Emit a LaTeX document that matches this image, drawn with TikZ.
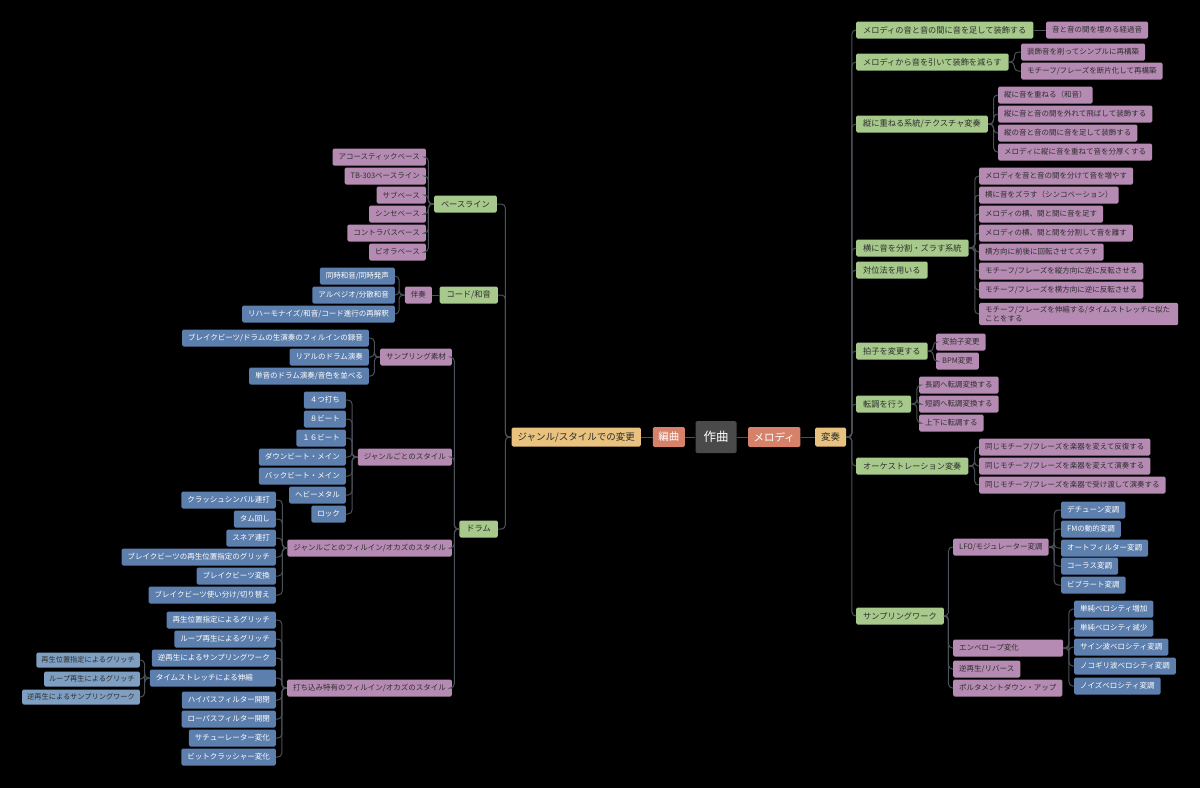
\documentclass[tikz,border=0pt]{standalone}
\usepackage{fontspec}
\setmainfont{Noto Sans CJK JP}
\definecolor{rootgray}{HTML}{4A4A4A}
\definecolor{salmon}{HTML}{D6826B}
\definecolor{mustard}{HTML}{E8C27E}
\definecolor{sage}{HTML}{A7C98B}
\definecolor{mauve}{HTML}{B68BB3}
\definecolor{steel}{HTML}{5D7FAD}
\definecolor{pale}{HTML}{7E9FC2}
\definecolor{ink}{HTML}{2E2E2E}
\definecolor{wire}{HTML}{4B5158}
\tikzset{
	box/.style={rounded corners=1.5pt, inner ysep=0pt, inner xsep=6pt, minimum height=17},
	root/.style={box, fill=rootgray, text=white, minimum height=32, inner xsep=8pt, font=\fontsize{12.5}{14}\selectfont},
	main/.style={box, fill=salmon, text=white, minimum height=20, inner xsep=5.5pt, font=\fontsize{10.5}{12}\selectfont},
	sub/.style={box, fill=mustard, text=ink, minimum height=19, font=\fontsize{9.5}{11}\selectfont},
	topic/.style={box, fill=sage, text=ink, inner xsep=7pt, font=\fontsize{8.2}{9.5}\selectfont},
	item/.style={box, fill=mauve, text=ink, font=\fontsize{7.5}{9.5}\selectfont},
	detail/.style={box, fill=steel, text=white, font=\fontsize{7.5}{9}\selectfont},
	fine/.style={box, fill=pale, text=ink, minimum height=15, inner xsep=5pt, font=\fontsize{7.2}{8.5}\selectfont},
	branch/.style={draw=wire, line width=1pt, rounded corners=4pt},
}
\begin{document}
\begin{tikzpicture}[x=1pt, y=-1pt]
	\fill[black] (0,0) rectangle (1200,788);
	\useasboundingbox (0,0) rectangle (1200,788);
	% centre
	\node[root] at (716,437) (saku) {作曲};
	\node[main, anchor=east] at (685,437) (henkyoku) {編曲};
	\node[main, anchor=west] at (748,437) (melody) {メロディ};
	\node[sub, anchor=east] at (641,437) (genre) {ジャンル/スタイルでの変更};
	\node[sub, anchor=west] at (815,437) (hensou) {変奏};
	\draw[branch] (saku.west) -- (henkyoku.east);
	\draw[branch] (henkyoku.west) -- (genre.east);
	\draw[branch] (saku.east) -- (melody.west);
	\draw[branch] (melody.east) -- (hensou.west);
	% right: variation
	\node[topic, anchor=west] at (856,30) (orn) {メロディの音と音の間に音を足して装飾する};
	\node[item, anchor=west] at (1046,30) (orna) {音と音の間を埋める経過音};
	\node[topic, anchor=west] at (856,62) (red) {メロディから音を引いて装飾を減らす};
	\node[item, anchor=west] at (1021,52) (reda) {装飾音を削ってシンプルに再構築};
	\node[item, anchor=west] at (1021,71) (redb) {モチーフ/フレーズを断片化して再構築};
	\node[topic, anchor=west] at (856,124) (vert) {縦に重ねる系統/テクスチャ変奏};
	\node[item, anchor=west] at (998,95) (verta) {縦に音を重ねる（和音）};
	\node[item, anchor=west] at (998,114) (vertb) {縦に音と音の間を外れて飛ばして装飾する};
	\node[item, anchor=west] at (998,133) (vertc) {縦の音と音の間に音を足して装飾する};
	\node[item, anchor=west] at (998,152) (vertd) {メロディに縦に音を重ねて音を分厚くする};
	\node[topic, anchor=west] at (856,248) (hor) {横に音を分割・ズラす系統};
	\node[topic, anchor=west] at (856,270) (cpt) {対位法を用いる};
	\node[item, anchor=west] at (979,176) (hora) {メロディを音と音の間を分けて音を増やす};
	\node[item, anchor=west] at (979,195) (horb) {横に音をズラす（シンコペーション）};
	\node[item, anchor=west] at (979,214) (horc) {メロディの横、間と間に音を足す};
	\node[item, anchor=west] at (979,233) (hord) {メロディの横、間と間を分割して音を離す};
	\node[item, anchor=west] at (979,252) (hore) {横方向に前後に回転させてズラす};
	\node[item, anchor=west] at (979,271) (horf) {モチーフ/フレーズを縦方向に逆に反転させる};
	\node[item, anchor=west] at (979,290) (horg) {モチーフ/フレーズを横方向に逆に反転させる};
	\node[item, anchor=west, inner ysep=3pt, text width=187, align=left] at (979,314) (horh) {モチーフ/フレーズを伸縮する/タイムストレッチに似た\\ことをする};
	\node[topic, anchor=west] at (856,351) (met) {拍子を変更する};
	\node[item, anchor=west] at (936,342) (meta) {変拍子変更};
	\node[item, anchor=west] at (936,361) (metb) {BPM変更};
	\node[topic, anchor=west] at (856,404) (mod) {転調を行う};
	\node[item, anchor=west] at (919,385) (moda) {長調へ転調変換する};
	\node[item, anchor=west] at (919,404) (modb) {短調へ転調変換する};
	\node[item, anchor=west] at (919,423) (modc) {上下に転調する};
	\node[topic, anchor=west] at (856,466) (orch) {オーケストレーション変奏};
	\node[item, anchor=west] at (979,447) (orcha) {同じモチーフ/フレーズを楽器を変えて反復する};
	\node[item, anchor=west] at (979,466) (orchb) {同じモチーフ/フレーズを楽器を変えて演奏する};
	\node[item, anchor=west] at (979,485) (orchc) {同じモチーフ/フレーズを楽器で受け渡して演奏する};
	\node[topic, anchor=west] at (856,616) (samp) {サンプリングワーク};
	\node[item, anchor=west] at (953,547) (lfo) {LFO/モジュレーター変調};
	\node[detail, anchor=west] at (1061,510) (lfoa) {デチューン変調};
	\node[detail, anchor=west] at (1061,529) (lfob) {FMの動的変調};
	\node[detail, anchor=west] at (1061,548) (lfoc) {オートフィルター変調};
	\node[detail, anchor=west] at (1061,566) (lfod) {コーラス変調};
	\node[detail, anchor=west] at (1061,585) (lfoe) {ビブラート変調};
	\node[item, anchor=west, text width=98, align=left] at (953,648) (env) {エンベロープ変化};
	\node[detail, anchor=west] at (1074,609) (enva) {単純ベロシティ増加};
	\node[detail, anchor=west] at (1074,628) (envb) {単純ベロシティ減少};
	\node[detail, anchor=west] at (1074,647) (envc) {サイン波ベロシティ変調};
	\node[detail, anchor=west] at (1074,666) (envd) {ノコギリ波ベロシティ変調};
	\node[detail, anchor=west] at (1074,686) (enve) {ノイズベロシティ変調};
	\node[item, anchor=west] at (953,669) (rev) {逆再生/リバース};
	\node[item, anchor=west] at (953,688) (port) {ポルタメントダウン・アップ};
	\foreach \c in {orn,red,vert,hor,cpt,met,mod,orch,samp}
		\draw[branch] (hensou.east) -- ++(5.5,0) |- (\c.west);
	\draw[branch] (orn.east) -- (orna.west);
	\foreach \c in {reda,redb}
		\draw[branch] (red.east) -- ++(5.5,0) |- (\c.west);
	\foreach \c in {verta,vertb,vertc,vertd}
		\draw[branch] (vert.east) -- ++(5.5,0) |- (\c.west);
	\foreach \c in {hora,horb,horc,hord,hore,horf,horg,horh}
		\draw[branch] (hor.east) -- ++(6,0) |- (\c.west);
	\foreach \c in {meta,metb}
		\draw[branch] (met.east) -- ++(5.5,0) |- (\c.west);
	\foreach \c in {moda,modb,modc}
		\draw[branch] (mod.east) -- ++(5.5,0) |- (\c.west);
	\foreach \c in {orcha,orchb,orchc}
		\draw[branch] (orch.east) -- ++(6,0) |- (\c.west);
	\foreach \c in {lfo,env,rev,port}
		\draw[branch] (samp.east) -- ++(4.5,0) |- (\c.west);
	\foreach \c in {lfoa,lfob,lfoc,lfod,lfoe}
		\draw[branch] (lfo.east) -- ++(5.5,0) |- (\c.west);
	\foreach \c in {enva,envb,envc,envd,enve}
		\draw[branch] (env.east) -- ++(5.5,0) |- (\c.west);
	% left: arrangement
	\node[topic, anchor=east] at (497,204) (bass) {ベースライン};
	\node[item, anchor=east] at (426,157) (bassa) {アコースティックベース};
	\node[item, anchor=east] at (426,176) (bassb) {TB-303ベースライン};
	\node[item, anchor=east] at (426,195) (bassc) {サブベース};
	\node[item, anchor=east] at (426,214) (bassd) {シンセベース};
	\node[item, anchor=east] at (426,233) (basse) {コントラバスベース};
	\node[item, anchor=east] at (426,252) (bassf) {ビオラベース};
	\node[topic, anchor=east] at (498,295) (chord) {コード/和音};
	\node[item, anchor=east] at (432,295) (acc) {伴奏};
	\node[detail, anchor=east] at (395,276) (acca) {同時和音/同時発声};
	\node[detail, anchor=east] at (395,295) (accb) {アルペジオ/分散和音};
	\node[detail, anchor=east] at (395,314) (accc) {リハーモナイズ/和音/コード進行の再解釈};
	\node[topic, anchor=east] at (498,529) (drum) {ドラム};
	\node[item, anchor=east] at (452,357) (smat) {サンプリング素材};
	\node[detail, anchor=east] at (369,338) (smata) {ブレイクビーツ/ドラムの生演奏のフィルインの録音};
	\node[detail, anchor=east] at (369,357) (smatb) {リアルのドラム演奏};
	\node[detail, anchor=east] at (369,376) (smatc) {単音のドラム演奏/音色を並べる};
	\node[item, anchor=east] at (452,457) (gsty) {ジャンルごとのスタイル};
	\node[detail, anchor=east] at (346,400) (gstya) {４つ打ち};
	\node[detail, anchor=east] at (346,419) (gstyb) {８ビート};
	\node[detail, anchor=east] at (346,438) (gstyc) {１６ビート};
	\node[detail, anchor=east] at (346,457) (gstyd) {ダウンビート・メイン};
	\node[detail, anchor=east] at (346,476) (gstye) {バックビート・メイン};
	\node[detail, anchor=east] at (346,495) (gstyf) {ヘビーメタル};
	\node[detail, anchor=east] at (346,514) (gstyg) {ロック};
	\node[item, anchor=east] at (452,548) (gfill) {ジャンルごとのフィルイン/オカズのスタイル};
	\node[detail, anchor=east] at (276,500) (gfilla) {クラッシュシンバル連打};
	\node[detail, anchor=east] at (276,519) (gfillb) {タム回し};
	\node[detail, anchor=east] at (276,538) (gfillc) {スネア連打};
	\node[detail, anchor=east] at (276,557) (gfilld) {ブレイクビーツの再生位置指定のグリッチ};
	\node[detail, anchor=east] at (276,576) (gfille) {ブレイクビーツ変換};
	\node[detail, anchor=east] at (276,595) (gfillf) {ブレイクビーツ使い分け/切り替え};
	\node[item, anchor=east] at (452,688) (dfill) {打ち込み特有のフィルイン/オカズのスタイル};
	\node[detail, anchor=east] at (276,620) (dfilla) {再生位置指定によるグリッチ};
	\node[detail, anchor=east] at (276,639) (dfillb) {ループ再生によるグリッチ};
	\node[detail, anchor=east] at (276,658) (dfillc) {逆再生によるサンプリングワーク};
	\node[detail, anchor=east, text width=114, align=left] at (276,678) (tstr) {タイムストレッチによる伸縮};
	\node[fine, anchor=east] at (140,660) (tstra) {再生位置指定によるグリッチ};
	\node[fine, anchor=east] at (140,679) (tstrb) {ループ再生によるグリッチ};
	\node[fine, anchor=east] at (140,697) (tstrc) {逆再生によるサンプリングワーク};
	\node[detail, anchor=east] at (276,700) (dfille) {ハイパスフィルター開閉};
	\node[detail, anchor=east] at (276,719) (dfillf) {ローパスフィルター開閉};
	\node[detail, anchor=east] at (276,738) (dfillg) {サチューレーター変化};
	\node[detail, anchor=east] at (276,757) (dfillh) {ビットクラッシャー変化};
	\foreach \c in {bass,chord,drum}
		\draw[branch] (genre.west) -- ++(-6,0) |- (\c.east);
	\foreach \c in {bassa,bassb,bassc,bassd,basse,bassf}
		\draw[branch] (bass.west) -- ++(-5.5,0) |- (\c.east);
	\draw[branch] (chord.west) -- (acc.east);
	\foreach \c in {acca,accb,accc}
		\draw[branch] (acc.west) -- ++(-5.5,0) |- (\c.east);
	\foreach \c in {smat,gsty,gfill,dfill}
		\draw[branch] (drum.west) -- ++(-5,0) |- (\c.east);
	\foreach \c in {smata,smatb,smatc}
		\draw[branch] (smat.west) -- ++(-5.5,0) |- (\c.east);
	\foreach \c in {gstya,gstyb,gstyc,gstyd,gstye,gstyf,gstyg}
		\draw[branch] (gsty.west) -- ++(-5.5,0) |- (\c.east);
	\foreach \c in {gfilla,gfillb,gfillc,gfilld,gfille,gfillf}
		\draw[branch] (gfill.west) -- ++(-5,0) |- (\c.east);
	\foreach \c in {dfilla,dfillb,dfillc,tstr,dfille,dfillf,dfillg,dfillh}
		\draw[branch] (dfill.west) -- ++(-5,0) |- (\c.east);
	\foreach \c in {tstra,tstrb,tstrc}
		\draw[branch] (tstr.west) -- ++(-5,0) |- (\c.east);
\end{tikzpicture}
\end{document}
